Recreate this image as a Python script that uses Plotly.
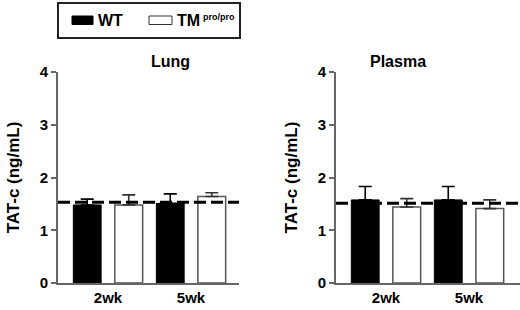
import plotly.graph_objects as go

categories = ["2wk", "5wk"]
panels = ["Lung", "Plasma"]
groups = ["WT", "TM"]

lung_wt = [1.48, 1.51]
lung_wt_err = [0.11, 0.18]
lung_tm = [1.48, 1.64]
lung_tm_err = [0.19, 0.07]

plasma_wt = [1.575, 1.575]
plasma_wt_err = [0.255, 0.255]
plasma_tm = [1.44, 1.41]
plasma_tm_err = [0.16, 0.165]

baselines = [1.53, 1.51]
y_ticks = [0, 1, 2, 3, 4]

FONT = "Arial, Liberation Sans, sans-serif"
W, H = 520, 310

fig = go.Figure()

data = [
    (lung_wt, lung_wt_err, lung_tm, lung_tm_err),
    (plasma_wt, plasma_wt_err, plasma_tm, plasma_tm_err),
]

for i, (wt, wte, tm, tme) in enumerate(data):
    xa = "x" if i == 0 else "x2"
    ya = "y" if i == 0 else "y2"
    fig.add_trace(go.Bar(
        x=categories, y=wt, name="WT", xaxis=xa, yaxis=ya,
        marker=dict(color="black", line=dict(color="black", width=1)),
        error_y=dict(type="data", array=wte, arrayminus=[0] * len(wte), symmetric=False,
                     color="black", thickness=1.6, width=6.5),
        showlegend=False,
    ))
    fig.add_trace(go.Bar(
        x=categories, y=tm, name="TM", xaxis=xa, yaxis=ya,
        marker=dict(color="white", line=dict(color="#555555", width=1.5)),
        error_y=dict(type="data", array=tme, arrayminus=[0] * len(tme), symmetric=False,
                     color="#333333", thickness=1.6, width=6.5),
        showlegend=False,
    ))
    fig.add_shape(type="line", xref=f"{xa} domain", yref=ya,
                  x0=0, x1=1, y0=baselines[i], y1=baselines[i],
                  line=dict(color="black", width=3, dash="12px,5px"), layer="above")

x_dom_left = [58 / W, 239 / W]
x_dom_right = [336 / W, 1.0]
y_dom = [(H - 283) / H, (H - 72) / H]

axis_common = dict(showline=True, linecolor="#666666", linewidth=1.6, showgrid=False,
                   zeroline=False, ticks="", automargin=False,
                   tickfont=dict(family=FONT, size=15, color="black", weight="bold"),
                   fixedrange=True)
yaxis_common = dict(showline=True, linecolor="#666666", linewidth=1.6, showgrid=False,
                    zeroline=False, ticks="outside", ticklen=5, tickwidth=1.5, tickcolor="#666666",
                    tickvals=y_ticks, range=[0, 4], domain=y_dom, fixedrange=True,
                    automargin=False,
                    tickfont=dict(family=FONT, size=15, color="black", weight="bold"),
                    title=dict(text="TAT-c (ng/mL)",
                               font=dict(family=FONT, size=17, color="black", weight="bold"),
                               standoff=16))

fig.update_layout(
    template="none",
    width=W, height=H,
    margin=dict(l=0, r=0, t=0, b=0, pad=0),
    paper_bgcolor="white", plot_bgcolor="white",
    barmode="group", bargap=0.0, bargroupgap=0.33,
    xaxis=dict(domain=x_dom_left, anchor="y", range=[-0.602, 1.578],
               tickvals=categories, ticktext=categories, **axis_common),
    xaxis2=dict(domain=x_dom_right, anchor="y2", range=[-0.602, 1.614],
                tickvals=categories, ticktext=categories, **axis_common),
    yaxis=dict(anchor="x", **yaxis_common),
    yaxis2=dict(anchor="x2", **yaxis_common),
    showlegend=False,
)

# panel titles
for i, name in enumerate(panels):
    dom = x_dom_left if i == 0 else x_dom_right
    fig.add_annotation(text=name, xref="paper", yref="paper",
                       x=(dom[0] + dom[1]) / 2, y=(H - 62) / H, yanchor="middle",
                       showarrow=False,
                       font=dict(family=FONT, size=16, color="black", weight="bold"))

# legend box
fig.add_shape(type="rect", xref="paper", yref="paper",
              x0=58 / W, x1=240 / W, y0=1 - 38 / H, y1=1 - 3 / H,
              line=dict(color="#222222", width=2), fillcolor="white")
fig.add_shape(type="rect", xref="paper", yref="paper",
              x0=72 / W, x1=93 / W, y0=1 - 24.5 / H, y1=1 - 16 / H,
              line=dict(color="black", width=1), fillcolor="black")
fig.add_shape(type="rect", xref="paper", yref="paper",
              x0=149 / W, x1=172 / W, y0=1 - 24.5 / H, y1=1 - 16 / H,
              line=dict(color="#333333", width=1), fillcolor="white")
fig.add_annotation(text=groups[0], xref="paper", yref="paper",
                   x=96 / W, y=1 - 20.5 / H, xanchor="left", yanchor="middle",
                   showarrow=False, font=dict(family=FONT, size=16, color="black", weight="bold"))
fig.add_annotation(text=groups[1], xref="paper", yref="paper",
                   x=175 / W, y=1 - 20.5 / H, xanchor="left", yanchor="middle",
                   showarrow=False, font=dict(family=FONT, size=16, color="black", weight="bold"))
fig.add_annotation(text="pro/pro", xref="paper", yref="paper",
                   x=201 / W, y=1 - 17.5 / H, xanchor="left", yanchor="middle",
                   showarrow=False, font=dict(family=FONT, size=9, color="black", weight="bold"))

fig.write_html("out.html", post_script="document.body.style.margin='0';",
               config={"displayModeBar": False})
